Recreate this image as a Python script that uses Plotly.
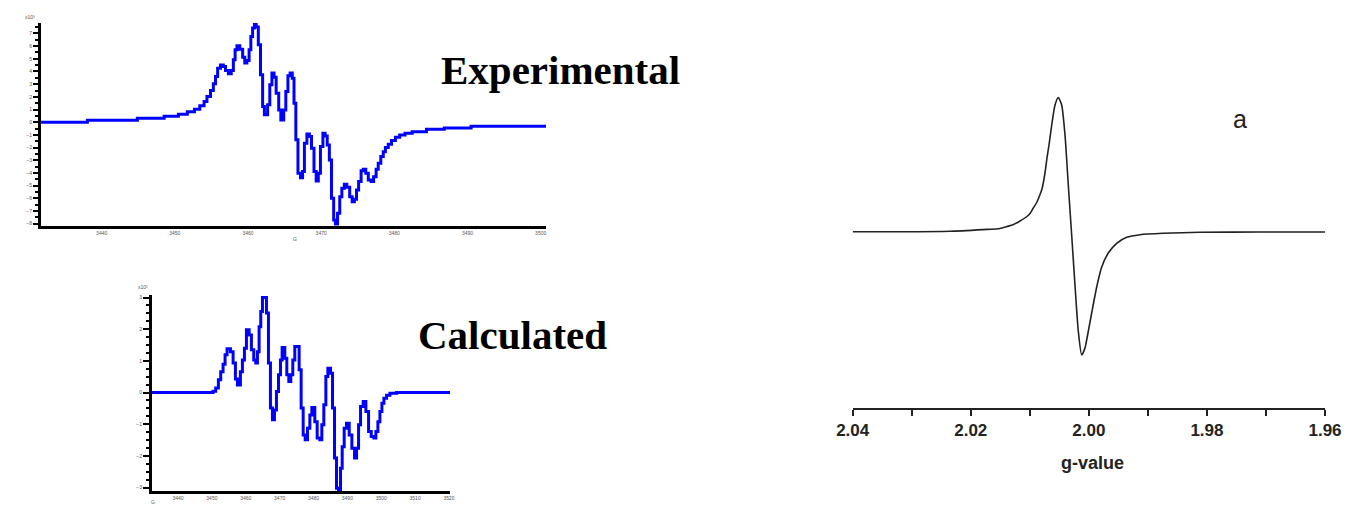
import plotly.graph_objects as go

W, H = 1347, 506

# ---------------- Experimental spectrum (field in G, intensity a.u.) ----------------
exp_field = [3431.71, 3438.05, 3444.88, 3448.54, 3450.49, 3451.71, 3452.68, 3453.41, 3454.00, 3454.39,
             3454.88, 3455.27, 3455.56, 3455.85, 3456.24, 3456.63, 3456.93, 3457.32, 3457.71, 3458.00,
             3458.24, 3458.49, 3458.88, 3459.27, 3459.56, 3459.85, 3460.15, 3460.39, 3460.63, 3460.88,
             3461.12, 3461.41, 3461.71, 3462.00, 3462.24, 3462.68, 3462.98, 3463.27, 3463.56, 3463.85,
             3464.20, 3464.49, 3464.88, 3465.17, 3465.46, 3465.76, 3466.05, 3466.29, 3466.54, 3466.83,
             3467.17, 3467.46, 3467.71, 3468.05, 3468.39, 3468.68, 3469.02, 3469.32, 3469.61, 3469.90,
             3470.24, 3470.54, 3470.83, 3471.12, 3471.41, 3471.71, 3471.95, 3472.24, 3472.54, 3472.83,
             3473.17, 3473.51, 3473.90, 3474.24, 3474.54, 3474.83, 3475.12, 3475.46, 3475.76, 3476.10,
             3476.44, 3476.83, 3477.17, 3477.51, 3477.80, 3478.15, 3478.49, 3478.78, 3479.17, 3479.61,
             3480.15, 3480.73, 3481.46, 3482.44, 3484.39, 3486.83, 3490.49, 3500.73]
exp_signal = [0.00, 0.16, 0.32, 0.47, 0.63, 0.82, 1.03, 1.29, 1.63, 2.03,
              2.50, 3.03, 3.61, 4.26, 4.50, 4.39, 4.08, 3.82, 4.08, 4.92,
              5.71, 6.03, 5.76, 5.13, 4.66, 4.87, 5.71, 6.76, 7.42, 7.76,
              7.50, 6.11, 3.74, 1.24, 0.58, 1.37, 2.95, 3.87, 3.55, 2.29,
              0.97, 0.18, 0.97, 2.42, 3.66, 3.87, 3.47, 1.50, -1.39, -4.03,
              -4.37, -3.89, -1.66, -0.92, -1.13, -2.05, -3.89, -4.63, -4.03, -1.92,
              -0.87, -1.08, -1.79, -2.97, -6.00, -7.71, -8.03, -7.18, -5.87, -5.21,
              -4.89, -5.13, -5.87, -6.26, -6.08, -5.34, -4.68, -3.82, -3.71, -4.03,
              -4.55, -4.68, -4.29, -3.71, -3.24, -2.71, -2.32, -2.00, -1.74, -1.45,
              -1.18, -1.00, -0.87, -0.76, -0.55, -0.45, -0.32, -0.24]
exp_x_range = [3431.71, 3500.73]
exp_y_range = [-8.18, 7.82]

# ---------------- Calculated spectrum ----------------
calc_field = [3432.32, 3450.34, 3451.13, 3451.92, 3452.61, 3453.30, 3453.89, 3454.48, 3455.47, 3456.26,
              3456.95, 3457.54, 3458.42, 3459.01, 3459.61, 3460.20, 3460.99, 3461.67, 3462.36, 3462.96,
              3463.45, 3463.94, 3464.43, 3464.93, 3466.11, 3466.70, 3467.29, 3467.88, 3468.47, 3469.06,
              3469.66, 3470.25, 3470.74, 3471.53, 3472.12, 3472.71, 3473.30, 3473.89, 3474.48, 3475.76,
              3476.35, 3476.95, 3477.54, 3478.23, 3478.92, 3479.51, 3480.39, 3481.08, 3481.87, 3482.46,
              3483.05, 3483.65, 3484.24, 3485.02, 3485.62, 3486.21, 3486.80, 3487.39, 3487.98, 3488.47,
              3489.06, 3489.75, 3490.54, 3491.33, 3492.12, 3492.71, 3493.30, 3493.89, 3494.68, 3495.47,
              3496.26, 3497.04, 3497.83, 3498.42, 3499.01, 3499.61, 3500.20, 3500.79, 3501.58, 3502.56,
              3504.53, 3520.30]
calc_signal = [0.00, 0.04, 0.14, 0.40, 0.66, 0.89, 1.19, 1.38, 1.29, 0.93,
               0.43, 0.24, 0.66, 1.03, 1.40, 1.98, 1.82, 1.35, 1.03, 0.93,
               1.29, 2.08, 2.56, 3.00, 2.51, 0.93, -0.49, -0.86, -0.55, 0.03,
               0.56, 1.03, 1.42, 1.08, 0.56, 0.35, 0.56, 1.03, 1.45, 0.72,
               -0.49, -1.34, -1.49, -1.13, -0.71, -0.47, -0.92, -1.44, -1.49, -1.02,
               -0.39, 0.51, 0.77, 0.61, -0.49, -2.07, -3.02, -3.07, -2.39, -1.71,
               -1.13, -0.97, -1.34, -1.76, -2.07, -1.76, -1.02, -0.44, -0.28, -0.60,
               -1.23, -1.39, -1.44, -1.23, -0.92, -0.60, -0.34, -0.18, -0.09, -0.02,
               0.00, 0.00]
calc_x_range = [3432.32, 3520.30]
calc_y_range = [-3.11, 3.08]

# ---------------- EPR spectrum (a) vs g-value ----------------
g_value = [2.0400, 2.03199, 2.02352, 2.01793, 2.01505, 2.01386, 2.01285, 2.01166, 2.01048, 2.00997,
           2.00946, 2.00883, 2.00827, 2.00794, 2.00743, 2.00709, 2.00675, 2.00629, 2.00573, 2.00518,
           2.00460, 2.00404, 2.00348, 2.00291, 2.00235, 2.00179, 2.00121, 2.00065, 2.00037, 1.99952,
           1.99867, 1.99782, 1.99671, 1.99528, 1.99359, 1.99134, 1.98744, 1.98117, 1.97101, 1.9600]
epr_signal = [0.0, -0.1, 0.4, 2.1, 3.2, 5.2, 6.9, 10.7, 15.2, 18.2,
              23.2, 29.2, 37.2, 42.7, 58.7, 73.7, 86.7, 106.7, 126.7, 134.2,
              126.7, 96.7, 46.7, -3.3, -53.3, -99.3, -123.3, -116.3, -108.3, -81.3,
              -55.3, -35.3, -21.3, -11.6, -5.6, -3.0, -1.6, -0.6, -0.3, -0.3]
g_ticks = [2.04, 2.02, 2.00, 1.98, 1.96]
epr_y_range = [-176.3, 141.7]


def px(x):
    return x / W


def py(y):
    return 1 - y / H


fig = go.Figure()

fig.add_trace(go.Scatter(x=exp_field, y=exp_signal, mode="lines", line_shape="hv",
                         line=dict(color="#0000ff", width=3), xaxis="x", yaxis="y",
                         showlegend=False))
fig.add_trace(go.Scatter(x=calc_field, y=calc_signal, mode="lines", line_shape="hv",
                         line=dict(color="#0000ff", width=3), xaxis="x2", yaxis="y2",
                         showlegend=False))
fig.add_trace(go.Scatter(x=g_value, y=epr_signal, mode="lines", line_shape="spline",
                         line=dict(color="#222222", width=1.6, smoothing=0.6), xaxis="x3", yaxis="y3",
                         showlegend=False))

tiny = dict(family="Arial", size=5, color="#555555")

fig.update_layout(
    width=W, height=H, margin=dict(l=0, r=0, t=0, b=0, autoexpand=False),
    paper_bgcolor="white", plot_bgcolor="white",
    xaxis=dict(domain=[px(41), px(546)], range=exp_x_range, showgrid=False, zeroline=False,
               showline=True, linecolor="black", linewidth=3, ticks="", dtick=10, tick0=3440,
               tickfont=tiny, anchor="y", automargin=False),
    yaxis=dict(domain=[py(226), py(23)], range=exp_y_range, showgrid=False, zeroline=False,
               showline=True, linecolor="black", linewidth=3, ticks="outside", ticklen=5,
               tickwidth=2, tickcolor="black", dtick=1, tick0=0, tickfont=tiny, anchor="x",
               automargin=False,
               minor=dict(dtick=0.5, ticks="outside", ticklen=3, tickwidth=2, tickcolor="black")),
    xaxis2=dict(domain=[px(152), px(450)], range=calc_x_range, showgrid=False, zeroline=False,
                showline=True, linecolor="black", linewidth=3, ticks="", dtick=10, tick0=3440,
                tickfont=tiny, anchor="y2", automargin=False),
    yaxis2=dict(domain=[py(491), py(295)], range=calc_y_range, showgrid=False, zeroline=False,
                showline=True, linecolor="black", linewidth=3, ticks="outside", ticklen=6,
                tickwidth=2, tickcolor="black", dtick=1, tick0=0, tickfont=tiny, anchor="x2",
                automargin=False,
                minor=dict(dtick=0.25, ticks="outside", ticklen=3, tickwidth=2, tickcolor="black")),
    xaxis3=dict(domain=[px(852.7), px(1325)], range=[2.04, 1.96], showgrid=False, zeroline=False,
                showline=True, linecolor="#222222", linewidth=1.6, ticks="outside", ticklen=6,
                tickwidth=1.5, tickcolor="#222222", tickvals=g_ticks, tickformat=".2f",
                tickfont=dict(family="Arial", size=17, color="#222222", weight="bold"),
                minor=dict(dtick=0.01, tick0=1.96, ticks="outside", ticklen=6, tickwidth=1.5,
                           tickcolor="#222222"),
                anchor="y3", automargin=False),
    yaxis3=dict(domain=[py(408), py(90)], range=epr_y_range, visible=False, anchor="x3",
                automargin=False),
)

serif_big = dict(family="Liberation Serif, Times New Roman, serif", size=41, color="black", weight="bold")
fig.add_annotation(text="Experimental", x=px(560), y=py(70), xref="paper", yref="paper",
                   showarrow=False, font=serif_big, xanchor="center", yanchor="middle")
fig.add_annotation(text="Calculated", x=px(512), y=py(335), xref="paper", yref="paper",
                   showarrow=False, font=serif_big, xanchor="center", yanchor="middle")
fig.add_annotation(text="a", x=px(1240), y=py(119), xref="paper", yref="paper",
                   showarrow=False, font=dict(family="Arial", size=25, color="#222222"),
                   xanchor="center", yanchor="middle")
fig.add_annotation(text="g-value", x=px(1092), y=py(463), xref="paper", yref="paper",
                   showarrow=False, font=dict(family="Arial", size=18, color="#222222", weight="bold"),
                   xanchor="center", yanchor="middle")
fig.add_annotation(text="x10³", x=px(30), y=py(17), xref="paper", yref="paper",
                   showarrow=False, font=tiny, xanchor="center", yanchor="middle")
fig.add_annotation(text="x10³", x=px(143), y=py(287), xref="paper", yref="paper",
                   showarrow=False, font=tiny, xanchor="center", yanchor="middle")
fig.add_annotation(text="G", x=px(295), y=py(239), xref="paper", yref="paper",
                   showarrow=False, font=tiny, xanchor="center", yanchor="middle")
fig.add_annotation(text="G", x=px(153), y=py(502), xref="paper", yref="paper",
                   showarrow=False, font=tiny, xanchor="center", yanchor="middle")

fig.write_html("out.html", config={"displayModeBar": False},
               post_script="document.body.style.margin='0px';document.body.style.overflow='hidden';")
